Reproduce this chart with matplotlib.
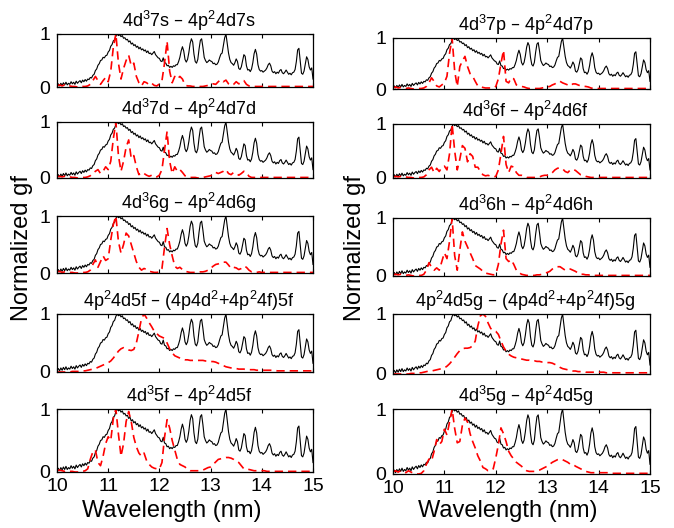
import numpy as np
import matplotlib
matplotlib.use('Agg')
import matplotlib.pyplot as plt

plt.rcParams['font.family'] = ['Liberation Sans', 'DejaVu Sans']
plt.rcParams['mathtext.default'] = 'regular'

# ---------------- data ----------------
exp_start, exp_step = 10.0, 0.025   # nm
black = [
    0.03, 0.06, 0.02, 0.07, 0.03, 0.08, 0.04, 0.09, 0.04, 0.07,
    0.05, 0.10, 0.06, 0.09, 0.05, 0.11, 0.07, 0.10, 0.12, 0.08,
    0.13, 0.10, 0.14, 0.11, 0.15, 0.14, 0.18, 0.17, 0.22, 0.24,
    0.31, 0.34, 0.41, 0.44, 0.50, 0.51, 0.56, 0.55, 0.59, 0.60,
    0.66, 0.69, 0.77, 0.80, 0.87, 0.89, 0.96, 1.00, 0.97, 0.99,
    0.95, 0.97, 0.92, 0.93, 0.89, 0.90, 0.85, 0.87, 0.81, 0.83,
    0.78, 0.80, 0.75, 0.77, 0.72, 0.75, 0.70, 0.72, 0.68, 0.70,
    0.65, 0.68, 0.63, 0.64, 0.61, 0.64, 0.67, 0.61, 0.58, 0.55,
    0.54, 0.49, 0.48, 0.55, 0.46, 0.45, 0.40, 0.41, 0.37, 0.39,
    0.37, 0.40, 0.39, 0.42, 0.42, 0.48, 0.56, 0.68, 0.76, 0.68,
    0.52, 0.47, 0.52, 0.65, 0.82, 0.91, 0.85, 0.62, 0.48, 0.45,
    0.52, 0.72, 0.88, 0.91, 0.75, 0.56, 0.50, 0.46, 0.48, 0.51,
    0.49, 0.48, 0.44, 0.45, 0.42, 0.43, 0.47, 0.55, 0.62, 0.64,
    0.78, 0.93, 1.00, 0.82, 0.64, 0.52, 0.46, 0.44, 0.41, 0.46,
    0.53, 0.48, 0.35, 0.33, 0.38, 0.50, 0.61, 0.58, 0.40, 0.32,
    0.33, 0.29, 0.34, 0.46, 0.63, 0.71, 0.62, 0.42, 0.33, 0.30,
    0.31, 0.28, 0.30, 0.32, 0.36, 0.42, 0.45, 0.40, 0.30, 0.27,
    0.29, 0.25, 0.28, 0.26, 0.31, 0.33, 0.27, 0.25, 0.28, 0.32,
    0.28, 0.24, 0.26, 0.23, 0.27, 0.28, 0.33, 0.48, 0.70, 0.73,
    0.50, 0.26, 0.24, 0.30, 0.44, 0.57, 0.52, 0.38, 0.32, 0.36,
    0.15,
]

th_start, th_step = 10.0, 0.05   # nm

red_7s = [
    0.02, 0.04, 0.02, 0.04, 0.01, 0.02, 0.01, 0.01, 0.00, 0.00,
    0.01, 0.01, 0.02, 0.05, 0.12, 0.20, 0.12, 0.05, 0.12, 0.18,
    0.10, 0.30, 0.75, 1.00, 0.45, 0.15, 0.35, 0.50, 0.60, 0.40,
    0.45, 0.20, 0.08, 0.02, 0.10, 0.08, 0.04, 0.07, 0.03, 0.02,
    0.06, 0.12, 0.45, 0.86, 0.30, 0.08, 0.20, 0.15, 0.20, 0.15,
    0.04, 0.02, 0.02, 0.01, 0.01, 0.00, 0.01, 0.01, 0.02, 0.03,
    0.05, 0.06, 0.05, 0.10, 0.14, 0.10, 0.13, 0.06, 0.03, 0.05,
    0.10, 0.06, 0.08, 0.12, 0.05, 0.02, 0.01, 0.01, 0.01, 0.01,
    0.01, 0.01, 0.01, 0.01, 0.01, 0.01, 0.01, 0.01, 0.01, 0.01,
    0.01, 0.01, 0.01, 0.01, 0.01, 0.01, 0.01, 0.01, 0.01, 0.01,
    0.01,
]
red_7p = [
    0.02, 0.04, 0.02, 0.03, 0.02, 0.01, 0.02, 0.01, 0.00, 0.00,
    0.01, 0.01, 0.02, 0.05, 0.12, 0.22, 0.15, 0.06, 0.04, 0.08,
    0.12, 0.25, 0.70, 1.00, 0.35, 0.05, 0.44, 0.55, 0.64, 0.44,
    0.30, 0.25, 0.15, 0.06, 0.05, 0.03, 0.02, 0.02, 0.02, 0.02,
    0.05, 0.20, 0.50, 0.76, 0.15, 0.12, 0.22, 0.20, 0.08, 0.06,
    0.05, 0.04, 0.02, 0.01, 0.01, 0.01, 0.01, 0.01, 0.02, 0.03,
    0.04, 0.05, 0.08, 0.10, 0.14, 0.15, 0.12, 0.10, 0.08, 0.06,
    0.10, 0.10, 0.08, 0.06, 0.05, 0.05, 0.04, 0.02, 0.01, 0.01,
    0.01, 0.01, 0.01, 0.01, 0.01, 0.01, 0.01, 0.01, 0.01, 0.01,
    0.01, 0.01, 0.01, 0.01, 0.01, 0.01, 0.01, 0.01, 0.01, 0.01,
    0.01,
]
red_7d = [
    0.02, 0.03, 0.02, 0.03, 0.01, 0.02, 0.01, 0.01, 0.00, 0.00,
    0.01, 0.01, 0.02, 0.04, 0.08, 0.12, 0.15, 0.08, 0.12, 0.20,
    0.15, 0.30, 0.70, 1.00, 0.40, 0.12, 0.30, 0.55, 0.68, 0.35,
    0.40, 0.20, 0.06, 0.10, 0.08, 0.05, 0.03, 0.05, 0.02, 0.02,
    0.05, 0.15, 0.50, 0.83, 0.30, 0.08, 0.20, 0.12, 0.15, 0.10,
    0.04, 0.02, 0.01, 0.01, 0.01, 0.00, 0.01, 0.01, 0.02, 0.03,
    0.04, 0.07, 0.10, 0.08, 0.10, 0.12, 0.15, 0.08, 0.06, 0.10,
    0.08, 0.05, 0.08, 0.12, 0.10, 0.03, 0.01, 0.01, 0.01, 0.01,
    0.01, 0.01, 0.01, 0.01, 0.01, 0.01, 0.01, 0.01, 0.01, 0.01,
    0.01, 0.01, 0.01, 0.01, 0.01, 0.01, 0.01, 0.01, 0.01, 0.01,
    0.01,
]
red_6f = [
    0.02, 0.03, 0.02, 0.03, 0.01, 0.02, 0.01, 0.01, 0.00, 0.00,
    0.01, 0.01, 0.02, 0.06, 0.15, 0.20, 0.10, 0.18, 0.12, 0.20,
    0.22, 0.15, 0.45, 1.00, 0.50, 0.15, 0.35, 0.60, 0.55, 0.30,
    0.45, 0.40, 0.20, 0.20, 0.12, 0.06, 0.04, 0.05, 0.03, 0.02,
    0.03, 0.15, 0.45, 0.77, 0.25, 0.10, 0.22, 0.20, 0.10, 0.05,
    0.05, 0.03, 0.01, 0.01, 0.01, 0.01, 0.01, 0.02, 0.04, 0.05,
    0.05, 0.06, 0.10, 0.15, 0.18, 0.19, 0.17, 0.12, 0.10, 0.15,
    0.16, 0.14, 0.10, 0.06, 0.05, 0.03, 0.02, 0.01, 0.01, 0.01,
    0.01, 0.01, 0.01, 0.01, 0.01, 0.01, 0.01, 0.01, 0.01, 0.01,
    0.01, 0.01, 0.01, 0.01, 0.01, 0.01, 0.01, 0.01, 0.01, 0.01,
    0.01,
]
red_6g = [
    0.02, 0.03, 0.01, 0.02, 0.01, 0.01, 0.01, 0.00, 0.00, 0.00,
    0.01, 0.01, 0.02, 0.05, 0.15, 0.23, 0.10, 0.20, 0.30, 0.22,
    0.25, 0.58, 0.85, 1.00, 0.55, 0.35, 0.50, 0.70, 0.65, 0.50,
    0.35, 0.20, 0.10, 0.05, 0.08, 0.06, 0.03, 0.02, 0.01, 0.01,
    0.02, 0.08, 0.45, 0.78, 0.50, 0.30, 0.12, 0.08, 0.10, 0.06,
    0.03, 0.02, 0.01, 0.01, 0.01, 0.01, 0.02, 0.02, 0.03, 0.05,
    0.08, 0.12, 0.15, 0.16, 0.18, 0.19, 0.19, 0.14, 0.08, 0.10,
    0.09, 0.06, 0.08, 0.12, 0.10, 0.05, 0.02, 0.02, 0.01, 0.02,
    0.01, 0.01, 0.01, 0.01, 0.01, 0.01, 0.01, 0.01, 0.01, 0.01,
    0.01, 0.01, 0.01, 0.01, 0.01, 0.01, 0.01, 0.01, 0.01, 0.01,
    0.01,
]
red_6h = [
    0.02, 0.03, 0.02, 0.03, 0.02, 0.01, 0.02, 0.01, 0.00, 0.00,
    0.01, 0.01, 0.03, 0.10, 0.23, 0.15, 0.10, 0.14, 0.10, 0.25,
    0.40, 0.30, 0.60, 1.00, 0.35, 0.10, 0.45, 0.76, 0.60, 0.50,
    0.40, 0.30, 0.18, 0.15, 0.12, 0.08, 0.05, 0.04, 0.03, 0.02,
    0.03, 0.20, 0.55, 0.79, 0.30, 0.25, 0.28, 0.20, 0.10, 0.06,
    0.03, 0.02, 0.01, 0.01, 0.01, 0.01, 0.02, 0.02, 0.03, 0.05,
    0.06, 0.08, 0.12, 0.15, 0.16, 0.16, 0.13, 0.10, 0.12, 0.12,
    0.10, 0.08, 0.05, 0.03, 0.03, 0.02, 0.02, 0.01, 0.01, 0.01,
    0.01, 0.01, 0.01, 0.01, 0.01, 0.01, 0.01, 0.01, 0.01, 0.01,
    0.01, 0.01, 0.01, 0.01, 0.01, 0.01, 0.01, 0.01, 0.01, 0.01,
    0.01,
]
red_5f_mix = [
    0.00, 0.00, 0.00, 0.00, 0.00, 0.00, 0.01, 0.01, 0.01, 0.01,
    0.02, 0.02, 0.03, 0.04, 0.05, 0.06, 0.08, 0.10, 0.12, 0.14,
    0.16, 0.19, 0.24, 0.30, 0.36, 0.40, 0.42, 0.40, 0.38, 0.37,
    0.39, 0.50, 0.70, 0.92, 1.00, 0.93, 0.85, 0.78, 0.70, 0.66,
    0.62, 0.60, 0.58, 0.50, 0.40, 0.33, 0.28, 0.26, 0.24, 0.22,
    0.21, 0.21, 0.20, 0.20, 0.20, 0.20, 0.20, 0.20, 0.19, 0.19,
    0.18, 0.18, 0.17, 0.15, 0.13, 0.11, 0.09, 0.08, 0.07, 0.06,
    0.06, 0.05, 0.05, 0.05, 0.04, 0.04, 0.04, 0.04, 0.03, 0.03,
    0.03, 0.03, 0.03, 0.03, 0.03, 0.03, 0.02, 0.02, 0.02, 0.02,
    0.02, 0.02, 0.02, 0.02, 0.02, 0.02, 0.02, 0.02, 0.02, 0.02,
    0.02,
]
red_5g_mix = [
    0.00, 0.00, 0.00, 0.00, 0.00, 0.00, 0.00, 0.01, 0.01, 0.01,
    0.02, 0.02, 0.03, 0.04, 0.05, 0.05, 0.06, 0.07, 0.08, 0.09,
    0.10, 0.13, 0.17, 0.22, 0.28, 0.34, 0.39, 0.42, 0.43, 0.43,
    0.44, 0.47, 0.55, 0.80, 0.97, 1.00, 0.96, 0.85, 0.76, 0.72,
    0.71, 0.66, 0.55, 0.45, 0.38, 0.33, 0.30, 0.28, 0.27, 0.26,
    0.25, 0.24, 0.23, 0.23, 0.22, 0.22, 0.21, 0.21, 0.20, 0.20,
    0.19, 0.19, 0.18, 0.16, 0.14, 0.11, 0.09, 0.08, 0.07, 0.06,
    0.05, 0.05, 0.04, 0.04, 0.04, 0.03, 0.03, 0.03, 0.03, 0.03,
    0.03, 0.03, 0.03, 0.02, 0.02, 0.02, 0.02, 0.02, 0.02, 0.02,
    0.02, 0.02, 0.02, 0.02, 0.02, 0.02, 0.02, 0.02, 0.02, 0.02,
    0.02,
]
red_5f = [
    0.02, 0.03, 0.02, 0.01, 0.02, 0.01, 0.01, 0.00, 0.00, 0.00,
    0.01, 0.02, 0.05, 0.20, 0.32, 0.35, 0.15, 0.10, 0.25, 0.45,
    0.56, 0.50, 0.85, 1.00, 0.60, 0.25, 0.45, 0.80, 0.96, 0.80,
    0.55, 0.40, 0.30, 0.25, 0.30, 0.18, 0.12, 0.08, 0.06, 0.05,
    0.05, 0.15, 0.55, 0.83, 0.70, 0.50, 0.35, 0.20, 0.12, 0.10,
    0.08, 0.04, 0.02, 0.02, 0.02, 0.02, 0.02, 0.03, 0.05, 0.07,
    0.08, 0.12, 0.16, 0.20, 0.21, 0.22, 0.23, 0.23, 0.22, 0.20,
    0.17, 0.15, 0.10, 0.05, 0.05, 0.04, 0.03, 0.02, 0.02, 0.02,
    0.02, 0.02, 0.01, 0.01, 0.01, 0.01, 0.01, 0.01, 0.01, 0.01,
    0.01, 0.01, 0.01, 0.01, 0.01, 0.01, 0.01, 0.01, 0.01, 0.01,
    0.01,
]
red_5g = [
    0.03, 0.05, 0.03, 0.05, 0.04, 0.02, 0.05, 0.03, 0.01, 0.00,
    0.00, 0.01, 0.05, 0.15, 0.23, 0.20, 0.35, 0.53, 0.45, 0.50,
    0.69, 0.60, 0.80, 1.00, 0.70, 0.48, 0.50, 0.75, 0.86, 0.80,
    0.62, 0.50, 0.40, 0.28, 0.20, 0.10, 0.08, 0.05, 0.05, 0.08,
    0.25, 0.45, 0.71, 0.62, 0.50, 0.35, 0.28, 0.23, 0.18, 0.15,
    0.12, 0.08, 0.05, 0.04, 0.04, 0.04, 0.05, 0.06, 0.08, 0.10,
    0.12, 0.15, 0.18, 0.20, 0.22, 0.23, 0.22, 0.20, 0.18, 0.15,
    0.15, 0.12, 0.10, 0.08, 0.06, 0.04, 0.03, 0.02, 0.02, 0.02,
    0.02, 0.02, 0.02, 0.02, 0.02, 0.01, 0.01, 0.01, 0.01, 0.01,
    0.01, 0.01, 0.01, 0.01, 0.01, 0.01, 0.01, 0.01, 0.01, 0.01,
    0.01,
]

titles_left = [
    '4d$^3$7s \u2013 4p$^2$4d7s',
    '4d$^3$7d \u2013 4p$^2$4d7d',
    '4d$^3$6g \u2013 4p$^2$4d6g',
    '4p$^2$4d5f \u2013 (4p4d$^2$+4p$^2$4f)5f',
    '4d$^3$5f \u2013 4p$^2$4d5f',
]
titles_right = [
    '4d$^3$7p \u2013 4p$^2$4d7p',
    '4d$^3$6f \u2013 4p$^2$4d6f',
    '4d$^3$6h \u2013 4p$^2$4d6h',
    '4p$^2$4d5g \u2013 (4p4d$^2$+4p$^2$4f)5g',
    '4d$^3$5g \u2013 4p$^2$4d5g',
]
reds_left = [red_7s, red_7d, red_6g, red_5f_mix, red_5f]
reds_right = [red_7p, red_6f, red_6h, red_5g_mix, red_5g]
xticks = [10, 11, 12, 13, 14, 15]
yticks = [0, 1]

# ---------------- layout ----------------
W, H = 674, 528
fig = plt.figure(figsize=(W / 100, H / 100), dpi=100)

cols = {
    'left': ((57, 313), 33, 172, [(34, 87), (122, 178), (216, 273), (314, 372), (409, 472)]),
    'right': ((393, 650), 366, 508, [(38, 89), (124, 178), (218, 276), (314, 374), (409, 474)]),
}

wl_exp = exp_start + exp_step * np.arange(len(black))

def panel(xr, ylab_x, xlab_x, yr, red, title, bottom, ylabel):
    x0, x1 = xr
    t, b = yr
    ax = fig.add_axes([x0 / W, 1 - b / H, (x1 - x0) / W, (b - t) / H])
    wl_th = th_start + th_step * np.arange(len(red))
    ax.plot(wl_exp, black, color='black', lw=0.8)
    ax.plot(wl_th, red, color='red', lw=1.2, dashes=(5, 3))
    ax.set_xlim(10, 15)
    ax.set_ylim(0, 1)
    ax.set_xticks(xticks)
    ax.set_yticks(yticks)
    ax.tick_params(direction='in', length=3, width=0.8, labelsize=14, pad=5,
                   top=True, right=True)
    ax.tick_params(axis='x', pad=4.5)
    if not bottom:
        ax.tick_params(labelbottom=False)
    else:
        ax.set_xlabel('Wavelength (nm)', fontsize=17)
        ax.xaxis.set_label_coords((xlab_x - x0) / (x1 - x0), -(500 - b) / (b - t))
    if ylabel:
        ax.set_ylabel('Normalized gf', fontsize=17)
        ax.yaxis.set_label_coords(-(x0 - ylab_x) / (x1 - x0), (b - 248) / (b - t))
    for s in ax.spines.values():
        s.set_linewidth(0.9)
    ax.set_title(title, fontsize=13, pad=5)
    ax.title.set_x(0.5 + 4 / (x1 - x0))
    return ax

for key, titles, reds in (('left', titles_left, reds_left), ('right', titles_right, reds_right)):
    xr, ylab_x, xlab_x, rows = cols[key]
    for i, (yr, red, title) in enumerate(zip(rows, reds, titles)):
        panel(xr, ylab_x, xlab_x, yr, red, title, bottom=(i == 4), ylabel=(i == 2))

fig.savefig('out.png', dpi=100)
